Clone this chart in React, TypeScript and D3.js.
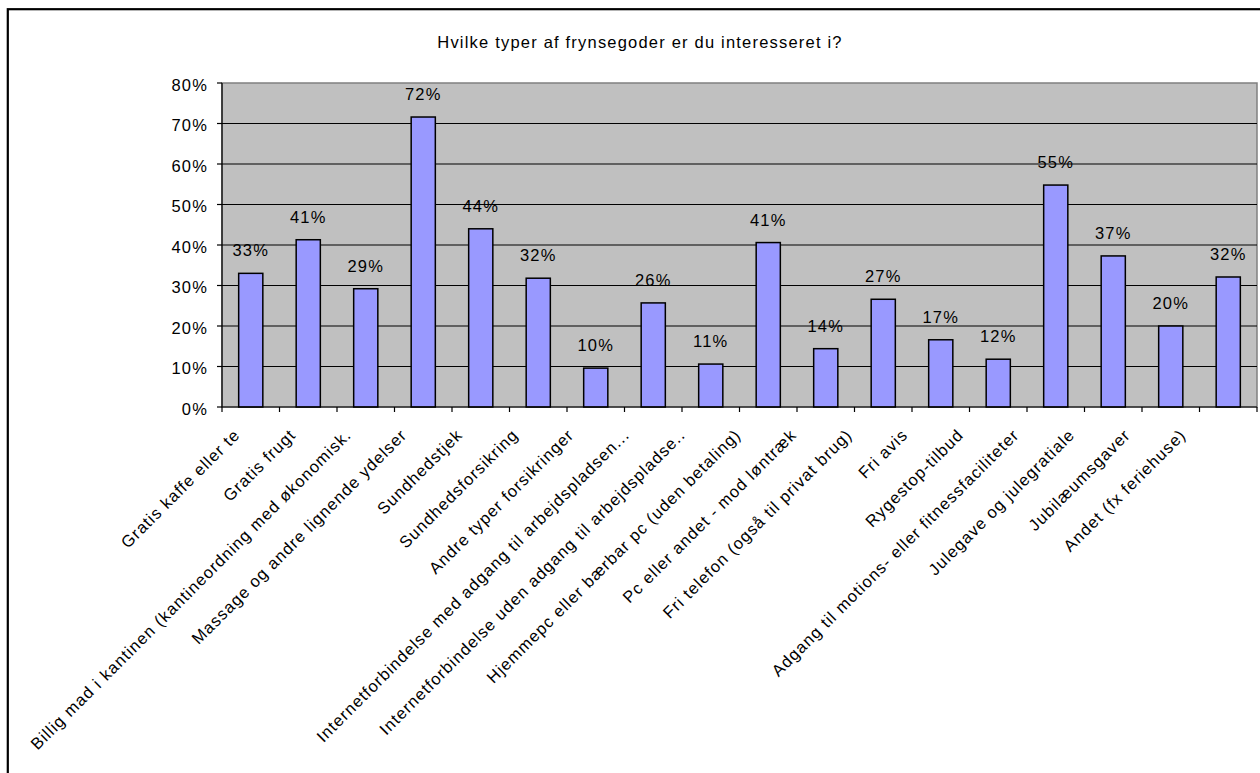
import React from "react";
import * as d3 from "d3";

const title = "Hvilke typer af frynsegoder er du interesseret i?";
const categories = [
  "Gratis kaffe eller te",
  "Gratis frugt",
  "Billig mad i kantinen (kantineordning med økonomisk.",
  "Massage og andre lignende ydelser",
  "Sundhedstjek",
  "Sundhedsforsikring",
  "Andre typer forsikringer",
  "Internetforbindelse med adgang til arbejdspladsen...",
  "Internetforbindelse uden adgang til arbejdspladse..",
  "Hjemmepc eller bærbar pc (uden betaling)",
  "Pc eller andet - mod løntræk",
  "Fri telefon (også til privat brug)",
  "Fri avis",
  "Rygestop-tilbud",
  "Adgang til motions- eller fitnessfaciliteter",
  "Julegave og julegratiale",
  "Jubilæumsgaver",
  "Andet (fx feriehuse)",
];
const values = [
  0.33, 0.413, 0.292, 0.716, 0.44, 0.318, 0.096, 0.257, 0.106, 0.406, 0.144,
  0.266, 0.166, 0.118, 0.548, 0.373, 0.2, 0.321,
];
const yTicks = [0, 0.1, 0.2, 0.3, 0.4, 0.5, 0.6, 0.7, 0.8];

const W = 1260;
const H = 773;
const plot = { left: 222, right: 1257, top: 83, bottom: 407 };
const FONT = "'Liberation Sans', Arial, sans-serif";
const FS = 16.5;
const LS = 1.2;

export default function App() {
  const x = d3
    .scaleBand<string>()
    .domain(categories)
    .range([plot.left, plot.right])
    .paddingInner(0.58)
    .paddingOuter(0.29);
  const band = d3.scaleBand<string>().domain(categories).range([plot.left, plot.right]);
  const labelX = d3.scalePoint<string>().domain(categories).range([241, 1187]);
  const y = d3.scaleLinear().domain([0, 0.8]).range([plot.bottom, plot.top]);
  const pct = d3.format(".0%");

  return (
    <svg
      width={W}
      height={H}
      style={{ position: "absolute", left: 0, top: 0, background: "#fff" }}
      fontFamily={FONT}
    >
      <rect x={0} y={0} width={W} height={H} fill="#fff" />
      {/* outer frame */}
      <rect
        x={7.8}
        y={9.2}
        width={W + 20}
        height={H + 20}
        fill="none"
        stroke="#000"
        strokeWidth={2.2}
      />
      <text
        x={640}
        y={48}
        textAnchor="middle"
        fontSize={FS}
        letterSpacing={LS}
        fill="#000"
      >
        {title}
      </text>
      {/* plot area */}
      <rect
        x={plot.left}
        y={plot.top}
        width={plot.right - plot.left}
        height={plot.bottom - plot.top}
        fill="#C0C0C0"
        stroke="#808080"
        strokeWidth={1.5}
      />
      {yTicks.slice(1, -1).map((t) => (
        <line
          key={"g" + t}
          x1={plot.left}
          x2={plot.right}
          y1={y(t)}
          y2={y(t)}
          stroke="#000"
          strokeWidth={1.2}
        />
      ))}
      {/* y axis */}
      <line x1={plot.left} x2={plot.left} y1={plot.top} y2={plot.bottom} stroke="#000" strokeWidth={1.2} />
      {yTicks.map((t) => (
        <g key={"t" + t}>
          <line x1={plot.left - 5} x2={plot.left} y1={y(t)} y2={y(t)} stroke="#000" strokeWidth={1.2} />
          <text
            x={208}
            y={y(t) + 7.7}
            textAnchor="end"
            fontSize={FS}
            letterSpacing={LS}
            fill="#000"
          >
            {pct(t)}
          </text>
        </g>
      ))}
      {/* bars */}
      {categories.map((c, i) => (
        <rect
          key={"b" + c}
          x={x(c)!}
          y={y(values[i])}
          width={x.bandwidth()}
          height={y(0) - y(values[i])}
          fill="#9999FF"
          stroke="#000"
          strokeWidth={1.5}
        />
      ))}
      {categories.map((c, i) => (
        <text
          key={"v" + c}
          x={x(c)! + x.bandwidth() / 2}
          y={y(values[i]) - 17}
          textAnchor="middle"
          fontSize={FS}
          letterSpacing={LS}
          fill="#000"
        >
          {pct(values[i])}
        </text>
      ))}
      {/* x axis */}
      <line x1={plot.left} x2={plot.right} y1={plot.bottom} y2={plot.bottom} stroke="#000" strokeWidth={1.2} />
      {[...categories.map((c) => band(c)!), plot.right].map((bx, i) => (
        <line key={"xt" + i} x1={bx} x2={bx} y1={plot.bottom} y2={plot.bottom + 5} stroke="#000" strokeWidth={1.2} />
      ))}
      {categories.map((c) => (
        <text
          key={"l" + c}
          transform={`translate(${labelX(c)},436) rotate(-45)`}
          textAnchor="end"
          fontSize={FS}
          letterSpacing={1.05}
          fill="#000"
        >
          {c}
        </text>
      ))}
    </svg>
  );
}
